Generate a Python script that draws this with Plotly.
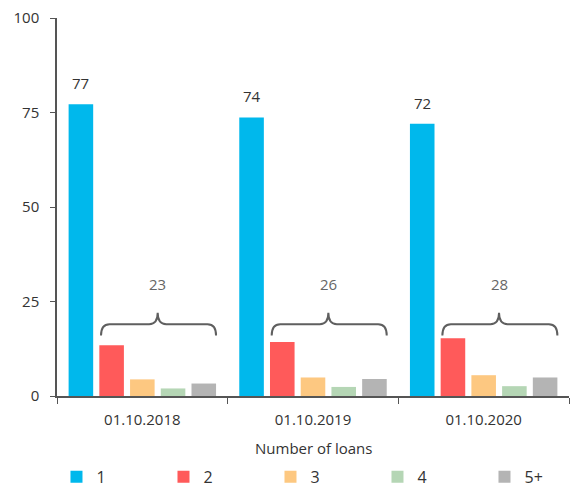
import plotly.graph_objects as go

categories = ["01.10.2018", "01.10.2019", "01.10.2020"]
series_names = ["1", "2", "3", "4", "5+"]
loans_1 = [77.2, 73.7, 72.0]
loans_2 = [13.4, 14.3, 15.3]
loans_3 = [4.4, 4.9, 5.5]
loans_4 = [2.0, 2.4, 2.6]
loans_5plus = [3.3, 4.5, 4.9]
top_labels = ["77", "74", "72"]
brace_labels = ["23", "26", "28"]
y_ticks = [0, 25, 50, 75, 100]

colors = ["#00b8ec", "#ff5a5a", "#fdc881", "#b5d6b5", "#b4b4b4"]
series = [loans_1, loans_2, loans_3, loans_4, loans_5plus]

FONT = "Open Sans"
TXT = "#333333"
BARGAP = 0.1
GROUPGAP = 0.2

fig = go.Figure()
for name, vals, c in zip(series_names, series, colors):
    fig.add_trace(go.Bar(x=categories, y=vals, name=name, marker=dict(color=c, line=dict(width=0))))

n = len(series)
slot = (1 - BARGAP) / n
barw = slot * (1 - GROUPGAP)

def center(ci, si):
    return ci - (1 - BARGAP) / 2 + slot * (si + 0.5)

shapes = []
annotations = []
y_line, y_end, y_tip = 19.0, 16.0, 22.0
for ci in range(len(categories)):
    L = center(ci, 1) - barw / 2 + 0.01
    R = center(ci, n - 1) + barw / 2
    M = (center(ci, 1) + center(ci, n - 1)) / 2
    r = 0.05
    path = (f"M {L},{y_end} Q {L},{y_line} {L+r},{y_line} L {M-r},{y_line} "
            f"Q {M},{y_line} {M},{y_tip} Q {M},{y_line} {M+r},{y_line} "
            f"L {R-r},{y_line} Q {R},{y_line} {R},{y_end}")
    shapes.append(dict(type="path", path=path, xref="x2", yref="y",
                       line=dict(color="#5f5f5f", width=2)))
    annotations.append(dict(x=M, y=y_tip, xref="x2", yref="y", text=brace_labels[ci],
                            showarrow=False, yshift=29, font=dict(size=15, color="#666666", family=FONT)))
    annotations.append(dict(x=center(ci, 0), y=loans_1[ci], xref="x2", yref="y", text=top_labels[ci],
                            showarrow=False, yshift=21, font=dict(size=15, color=TXT, family=FONT)))

annotations.append(dict(x=0.5, y=0, xref="paper", yref="paper", text="Number of loans",
                        showarrow=False, yanchor="middle", yshift=-52,
                        font=dict(size=15, color=TXT, family=FONT)))

fig.update_layout(
    width=571, height=489,
    margin=dict(l=57, r=2, t=18, b=93, autoexpand=False),
    plot_bgcolor="white", paper_bgcolor="white",
    barmode="group", bargap=BARGAP, bargroupgap=GROUPGAP,
    font=dict(family=FONT, size=15, color=TXT),
    xaxis=dict(type="category", tickson="boundaries", ticks="outside", ticklen=6,
               tickcolor="#555555", showline=True, linecolor="#555555", linewidth=1.5,
               showgrid=False, tickfont=dict(size=15, color=TXT), ticklabelstandoff=9),
    xaxis2=dict(overlaying="x", range=[-0.5, 2.5], visible=False),
    yaxis=dict(range=[0, 100], tickvals=y_ticks, ticks="outside", ticklen=5,
               tickcolor="#555555", showline=True, linecolor="#555555", linewidth=1.5,
               showgrid=False, zeroline=False, tickfont=dict(size=15, color=TXT),
               ticklabelstandoff=8),
    legend=dict(orientation="h", x=-0.001, xanchor="left", y=-0.169, yanchor="top",
                itemwidth=30, entrywidth=62, font=dict(size=16, color=TXT), traceorder="normal"),
    shapes=shapes, annotations=annotations,
)

fig.write_html("out.html")
